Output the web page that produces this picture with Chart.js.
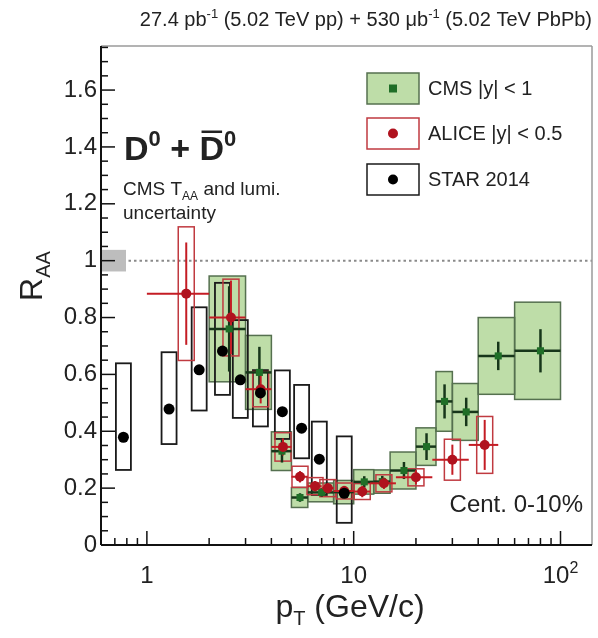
<!DOCTYPE html>
<html>
<head>
<meta charset="utf-8">
<script src="https://cdn.jsdelivr.net/npm/chart.js@4.4.0/dist/chart.umd.min.js"></script>
<style>
  html, body { margin: 0; padding: 0; background: #fff; }
</style>
</head>
<body>
<canvas id="raaChart" width="598" height="638"></canvas>
<script>
// D0 nuclear modification factor vs pT, central collisions

// CMS |y| < 1, PbPb 0-10%
var cmsPt   = [2.5, 3.5, 4.5, 5.5, 7, 9, 11.25, 13.75, 17.5, 22.5, 27.5, 35, 50, 80];
var cmsLo   = [2, 3, 4, 5, 6, 8, 10, 12.5, 15, 20, 25, 30, 40, 60];
var cmsHi   = [3, 4, 5, 6, 8, 10, 12.5, 15, 20, 25, 30, 40, 60, 100];
var cmsRaa  = [0.76, 0.607, 0.33, 0.167, 0.185, 0.186, 0.222, 0.223, 0.262, 0.346, 0.505, 0.468, 0.665, 0.683];
var cmsStat = [0.15, 0.09, 0.04, 0.015, 0.015, 0.02, 0.02, 0.02, 0.03, 0.047, 0.06, 0.05, 0.05, 0.076];
var cmsSys  = [0.186, 0.13, 0.068, 0.035, 0.033, 0.041, 0.043, 0.041, 0.065, 0.066, 0.105, 0.10, 0.135, 0.171];
var cmsGlobalUnc = 0.038;   // T_AA + lumi

// ALICE |y| < 0.5
var alicePt   = [1.55, 2.55, 3.55, 4.55, 5.5, 6.5, 7.5, 9, 11, 14, 20, 30, 43];
var aliceLo   = [1, 2, 3, 4, 5, 6, 7, 8, 10, 12, 16, 24, 36];
var aliceHi   = [2, 3, 4, 5, 6, 7, 8, 10, 12, 16, 24, 36, 50];
var aliceRaa  = [0.884, 0.80, 0.548, 0.345, 0.24, 0.207, 0.20, 0.19, 0.188, 0.217, 0.238, 0.30, 0.352];
var aliceStat = [0.18, 0.13, 0.05, 0.03, 0.02, 0.018, 0.018, 0.018, 0.02, 0.02, 0.025, 0.053, 0.088];
var aliceSys  = [0.235, 0.135, 0.062, 0.05, 0.037, 0.03, 0.03, 0.028, 0.028, 0.03, 0.03, 0.072, 0.10];

// STAR 2014 (AuAu 0-10%), asymmetric systematics
var starPt    = [0.77, 1.28, 1.79, 2.32, 2.83, 3.54, 4.52, 5.6, 6.82, 9.0];
var starRaa   = [0.379, 0.478, 0.616, 0.682, 0.581, 0.535, 0.469, 0.411, 0.302, 0.182];
var starSysUp = [0.26, 0.20, 0.22, 0.24, 0.21, 0.08, 0.145, 0.152, 0.132, 0.20];
var starSysLo = [0.115, 0.123, 0.143, 0.154, 0.134, 0.118, 0.096, 0.106, 0.126, 0.104];

// axis ticks
var yTickVals = [0, 0.2, 0.4, 0.6, 0.8, 1, 1.2, 1.4, 1.6];
var yTickText = ['0', '0.2', '0.4', '0.6', '0.8', '1', '1.2', '1.4', '1.6'];
var xTickVals = [1, 10, 100];
var xTickText = ['1', '10', '10'];
var xTickExp  = ['', '', '2'];

var FONT = '"Liberation Sans", Arial, Helvetica, sans-serif';
var CMS_FILL = '#bedda8', CMS_EDGE = '#55704f', CMS_MARK = '#1f6e27', CMS_BAR = '#17361a';
var ALICE_MARK = '#b0121e', ALICE_EDGE = '#c03a40', ALICE_BAR = '#c41c24';

function pts(xs, ys) {
  return xs.map(function (x, i) { return { x: x, y: ys[i] }; });
}

// text made of pieces with their own size / offset (sub- and superscripts)
function richText(c, x, y, parts, align) {
  var w = 0;
  parts.forEach(function (p) {
    c.font = (p.bold ? 'bold ' : '') + p.size + 'px ' + FONT;
    p.w = c.measureText(p.t).width;
    w += p.w;
  });
  var cx = align === 'right' ? x - w : (align === 'center' ? x - w / 2 : x);
  c.textAlign = 'left';
  c.textBaseline = 'alphabetic';
  parts.forEach(function (p) {
    c.font = (p.bold ? 'bold ' : '') + p.size + 'px ' + FONT;
    c.fillText(p.t, cx, y + (p.dy || 0));
    if (p.bar) c.fillRect(cx + 2, y - p.size * 0.72 - 5, p.w - 4, 2.5);
    cx += p.w;
  });
  return w;
}

function lineSeg(c, x0, y0, x1, y1) {
  c.beginPath(); c.moveTo(x0, y0); c.lineTo(x1, y1); c.stroke();
}

// uncertainty boxes and error bars, under the markers
var boxesPlugin = {
  id: 'boxes',
  beforeDatasetsDraw: function (chart) {
    var c = chart.ctx, xs = chart.scales.x, ys = chart.scales.y, a = chart.chartArea;
    c.save();
    c.beginPath(); c.rect(a.left, a.top, a.right - a.left, a.bottom - a.top); c.clip();

    // unity line
    c.strokeStyle = '#8a8a8a'; c.lineWidth = 2; c.setLineDash([2.5, 3]);
    lineSeg(c, a.left, ys.getPixelForValue(1), a.right, ys.getPixelForValue(1));
    c.setLineDash([]);

    // global normalisation uncertainty
    c.fillStyle = '#bdbdbd';
    var gy0 = ys.getPixelForValue(1 + cmsGlobalUnc), gy1 = ys.getPixelForValue(1 - cmsGlobalUnc);
    c.fillRect(a.left + 1, gy0, 24, gy1 - gy0);

    // CMS systematics span the pT bin
    c.lineWidth = 1.5;
    cmsRaa.forEach(function (v, i) {
      var x0 = xs.getPixelForValue(cmsLo[i]), x1 = xs.getPixelForValue(cmsHi[i]);
      var y0 = ys.getPixelForValue(v + cmsSys[i]), y1 = ys.getPixelForValue(v - cmsSys[i]);
      c.fillStyle = CMS_FILL; c.fillRect(x0, y0, x1 - x0, y1 - y0);
    });
    c.strokeStyle = CMS_EDGE;
    cmsRaa.forEach(function (v, i) {
      var x0 = xs.getPixelForValue(cmsLo[i]), x1 = xs.getPixelForValue(cmsHi[i]);
      var y0 = ys.getPixelForValue(v + cmsSys[i]), y1 = ys.getPixelForValue(v - cmsSys[i]);
      c.strokeRect(x0, y0, x1 - x0, y1 - y0);
    });

    // STAR boxes
    c.strokeStyle = '#1a1a1a'; c.lineWidth = 1.8;
    starRaa.forEach(function (v, i) {
      var xc = xs.getPixelForValue(starPt[i]);
      var y0 = ys.getPixelForValue(v + starSysUp[i]), y1 = ys.getPixelForValue(v - starSysLo[i]);
      c.strokeRect(xc - 7.5, y0, 15, y1 - y0);
    });

    // ALICE boxes
    c.strokeStyle = ALICE_EDGE; c.lineWidth = 1.5;
    aliceRaa.forEach(function (v, i) {
      var xc = xs.getPixelForValue(alicePt[i]);
      var y0 = ys.getPixelForValue(v + aliceSys[i]), y1 = ys.getPixelForValue(v - aliceSys[i]);
      c.strokeRect(xc - 8, y0, 16, y1 - y0);
    });

    // CMS error bars
    c.strokeStyle = CMS_BAR; c.lineWidth = 2.5;
    cmsRaa.forEach(function (v, i) {
      var xc = xs.getPixelForValue(cmsPt[i]), yc = ys.getPixelForValue(v);
      lineSeg(c, xs.getPixelForValue(cmsLo[i]), yc, xs.getPixelForValue(cmsHi[i]), yc);
      lineSeg(c, xc, ys.getPixelForValue(v + cmsStat[i]), xc, ys.getPixelForValue(v - cmsStat[i]));
    });

    // ALICE error bars
    c.strokeStyle = ALICE_BAR; c.lineWidth = 2;
    aliceRaa.forEach(function (v, i) {
      var xc = xs.getPixelForValue(alicePt[i]), yc = ys.getPixelForValue(v);
      lineSeg(c, xs.getPixelForValue(aliceLo[i]), yc, xs.getPixelForValue(aliceHi[i]), yc);
      lineSeg(c, xc, ys.getPixelForValue(v + aliceStat[i]), xc, ys.getPixelForValue(v - aliceStat[i]));
    });
    c.restore();
  }
};

// frame, inward ticks, labels, legend and captions
var framePlugin = {
  id: 'frame',
  afterDraw: function (chart) {
    var c = chart.ctx, xs = chart.scales.x, ys = chart.scales.y, a = chart.chartArea;
    c.save();

    // top / right frame
    c.strokeStyle = '#9a9a9a'; c.lineWidth = 1.5;
    lineSeg(c, a.left, a.top, a.right, a.top);
    lineSeg(c, a.right, a.top, a.right, a.bottom);
    // axes
    c.strokeStyle = '#111'; c.lineWidth = 2;
    lineSeg(c, a.left, a.top, a.left, a.bottom);
    lineSeg(c, a.left, a.bottom, a.right, a.bottom);

    // y ticks every 0.05, major every 0.2
    c.lineWidth = 1.5;
    for (var i = 0; i * 0.05 <= ys.max + 1e-9; i++) {
      var py = ys.getPixelForValue(i * 0.05);
      lineSeg(c, a.left, py, a.left + (i % 4 === 0 ? 14 : 7), py);
    }
    // x ticks
    [0.1, 1, 10, 100].forEach(function (dec) {
      for (var k = 1; k <= 9; k++) {
        var v = dec * k;
        if (v < xs.min || v > xs.max) continue;
        var px = xs.getPixelForValue(v);
        lineSeg(c, px, a.bottom, px, a.bottom - (k === 1 ? 14 : 7));
      }
    });

    c.fillStyle = '#222';
    c.font = '24px ' + FONT; c.textAlign = 'right'; c.textBaseline = 'middle';
    yTickVals.forEach(function (v, i) {
      c.fillText(yTickText[i], a.left - 4, ys.getPixelForValue(v));
    });
    xTickVals.forEach(function (v, i) {
      var parts = [{ t: xTickText[i], size: 24 }];
      if (xTickExp[i]) parts.push({ t: xTickExp[i], size: 16, dy: -10 });
      richText(c, xs.getPixelForValue(v), a.bottom + 38, parts, 'center');
    });

    // axis titles
    richText(c, 350, 617, [{ t: 'p', size: 32 }, { t: 'T', size: 20, dy: 8 }, { t: ' (GeV/c)', size: 32 }], 'center');
    c.save();
    c.translate(42, 276); c.rotate(-Math.PI / 2);
    richText(c, 0, 0, [{ t: 'R', size: 32 }, { t: 'AA', size: 20, dy: 8 }], 'center');
    c.restore();

    // luminosity line
    richText(c, a.right, 26, [
      { t: '27.4 pb', size: 20 }, { t: '-1', size: 13, dy: -8 },
      { t: ' (5.02 TeV pp) + 530 \u03bcb', size: 20 }, { t: '-1', size: 13, dy: -8 },
      { t: ' (5.02 TeV PbPb)', size: 20 }], 'right');

    // species
    richText(c, 124, 160, [
      { t: 'D', size: 34, bold: true }, { t: '0', size: 22, bold: true, dy: -14 },
      { t: ' + ', size: 34, bold: true },
      { t: 'D', size: 34, bold: true, bar: true }, { t: '0', size: 22, bold: true, dy: -14 }], 'left');

    richText(c, 123, 195, [{ t: 'CMS T', size: 19 }, { t: 'AA', size: 12, dy: 5 }, { t: ' and lumi.', size: 19 }], 'left');
    richText(c, 123, 219, [{ t: 'uncertainty', size: 19 }], 'left');

    c.font = '24px ' + FONT; c.textAlign = 'right'; c.textBaseline = 'alphabetic';
    c.fillText('Cent. 0-10%', 583, 512);

    // legend
    var lx = 367, lw = 52, lh = 31;
    var rows = [{ y: 73, label: 'CMS |y| < 1' }, { y: 118, label: 'ALICE |y| < 0.5' }, { y: 164, label: 'STAR 2014' }];
    c.lineWidth = 1.5;
    c.fillStyle = CMS_FILL; c.fillRect(lx, rows[0].y, lw, lh);
    c.strokeStyle = CMS_EDGE; c.strokeRect(lx, rows[0].y, lw, lh);
    c.fillStyle = CMS_MARK; c.fillRect(lx + lw / 2 - 4, rows[0].y + lh / 2 - 4, 8, 8);
    c.strokeStyle = ALICE_EDGE; c.strokeRect(lx, rows[1].y, lw, lh);
    c.fillStyle = ALICE_MARK; c.beginPath(); c.arc(lx + lw / 2, rows[1].y + lh / 2, 5, 0, 2 * Math.PI); c.fill();
    c.strokeStyle = '#1a1a1a'; c.strokeRect(lx, rows[2].y, lw, lh);
    c.fillStyle = '#000'; c.beginPath(); c.arc(lx + lw / 2, rows[2].y + lh / 2, 5, 0, 2 * Math.PI); c.fill();
    c.fillStyle = '#222'; c.font = '20px ' + FONT; c.textAlign = 'left'; c.textBaseline = 'middle';
    rows.forEach(function (r) { c.fillText(r.label, 428, r.y + lh / 2 + 1); });

    c.restore();
  }
};

var ctx = document.getElementById('raaChart').getContext('2d');
var myChart = new Chart(ctx, {
  type: 'scatter',
  data: {
    datasets: [
      { label: 'STAR 2014', data: pts(starPt, starRaa), pointStyle: 'circle', pointRadius: 5.5,
        backgroundColor: '#000', borderColor: '#000', borderWidth: 0, order: 1 },
      { label: 'ALICE |y| < 0.5', data: pts(alicePt, aliceRaa), pointStyle: 'circle', pointRadius: 5,
        backgroundColor: ALICE_MARK, borderColor: ALICE_MARK, borderWidth: 0, order: 2 },
      { label: 'CMS |y| < 1', data: pts(cmsPt, cmsRaa), pointStyle: 'rect', pointRadius: 5,
        backgroundColor: CMS_MARK, borderColor: CMS_MARK, borderWidth: 0, order: 3 }
    ]
  },
  options: {
    responsive: false,
    animation: false,
    events: [],
    layout: { padding: { left: 101, right: 6, top: 46, bottom: 93 } },
    scales: {
      x: { type: 'logarithmic', min: 0.64, max: 142, display: false },
      y: { type: 'linear', min: 0, max: 1.755, display: false }
    },
    plugins: { legend: { display: false }, tooltip: { enabled: false } }
  },
  plugins: [boxesPlugin, framePlugin]
});
</script>
</body>
</html>
